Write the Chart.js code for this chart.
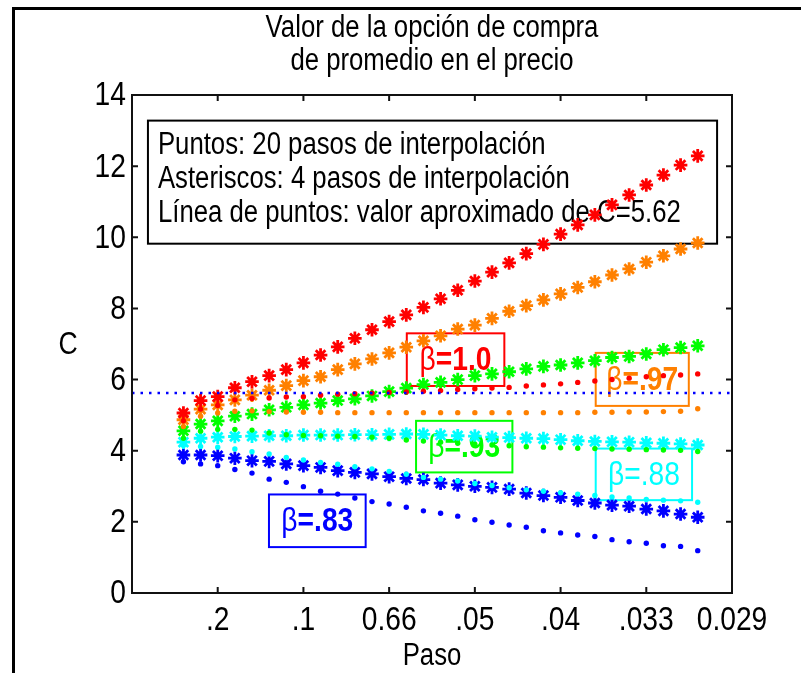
<!DOCTYPE html>
<html><head><meta charset="utf-8">
<script src="https://cdn.jsdelivr.net/npm/chart.js@4.4.1/dist/chart.umd.min.js"></script>
<style>html,body{margin:0;padding:0;background:#fff;}canvas{display:block;}</style>
</head><body>
<canvas id="c" width="801" height="673"></canvas>
<script>
// ---- data ----
const steps = [3,4,5,6,7,8,9,10,11,12,13,14,15,16,17,18,19,20,21,22,23,24,25,26,27,28,29,30,31,32,33];
const xTickValues = [5,10,15,20,25,30,35];
const xTickLabels = ['.2','.1','0.66','.05','.04','.033','0.029'];
const yTickValues = [0,2,4,6,8,10,12,14];
const approxC = 5.62;

// asterisks: 4 interpolation steps ; dots: 20 interpolation steps
const stars100 = [5.06,5.41,5.52,5.77,5.94,6.11,6.28,6.47,6.69,6.92,7.16,7.40,7.63,7.82,8.03,8.27,8.51,8.77,9.02,9.28,9.54,9.80,10.09,10.35,10.63,10.91,11.19,11.47,11.75,12.03,12.29];
const dots100  = [4.84,5.17,5.27,5.43,5.47,5.48,5.51,5.52,5.56,5.59,5.60,5.62,5.64,5.65,5.67,5.69,5.72,5.74,5.76,5.78,5.82,5.85,5.88,5.92,5.96,6.00,6.04,6.08,6.11,6.13,6.16];
const stars97  = [4.87,5.17,5.29,5.43,5.56,5.70,5.83,5.97,6.08,6.28,6.44,6.58,6.75,6.91,7.09,7.23,7.42,7.53,7.72,7.92,8.08,8.24,8.41,8.59,8.75,8.94,9.11,9.30,9.48,9.67,9.84];
const dots97   = [4.68,4.97,5.06,5.11,5.12,5.10,5.09,5.08,5.08,5.07,5.07,5.07,5.07,5.07,5.07,5.07,5.07,5.07,5.07,5.07,5.07,5.07,5.07,5.07,5.08,5.08,5.09,5.09,5.10,5.11,5.18];
const stars93  = [4.56,4.75,4.84,4.97,5.03,5.15,5.22,5.29,5.34,5.41,5.46,5.54,5.66,5.76,5.86,5.92,6.00,6.11,6.16,6.22,6.30,6.37,6.41,6.47,6.53,6.62,6.65,6.72,6.84,6.90,6.95];
const dots93   = [4.35,4.55,4.60,4.60,4.58,4.50,4.45,4.43,4.42,4.41,4.40,4.38,4.35,4.30,4.27,4.24,4.21,4.18,4.16,4.14,4.11,4.10,4.08,4.07,4.06,4.05,4.04,4.03,4.02,4.01,3.98];
const stars88  = [4.24,4.35,4.38,4.40,4.41,4.42,4.42,4.44,4.44,4.44,4.45,4.45,4.46,4.47,4.46,4.44,4.42,4.41,4.38,4.37,4.35,4.34,4.31,4.28,4.26,4.25,4.24,4.22,4.21,4.19,4.16];
const dots88   = [4.15,4.12,4.10,4.05,3.97,3.91,3.81,3.74,3.67,3.62,3.55,3.49,3.42,3.34,3.25,3.20,3.15,3.08,3.02,2.96,2.90,2.86,2.82,2.78,2.74,2.70,2.67,2.63,2.61,2.59,2.55];
const stars83  = [3.88,3.88,3.86,3.79,3.72,3.70,3.63,3.58,3.53,3.44,3.39,3.35,3.27,3.22,3.19,3.09,3.04,3.00,2.97,2.92,2.81,2.74,2.69,2.60,2.53,2.47,2.44,2.36,2.31,2.22,2.13];
const dots83   = [3.69,3.63,3.58,3.47,3.37,3.20,3.11,2.99,2.86,2.78,2.67,2.57,2.50,2.41,2.31,2.24,2.16,2.06,1.99,1.91,1.85,1.75,1.69,1.63,1.59,1.50,1.44,1.40,1.33,1.31,1.19];

const titleLines = ['Valor de la opción de compra','de promedio en el precio'];
const xTitle = 'Paso';
const yTitle = 'C';
const noteLines = ['Puntos: 20 pasos de interpolación','Asteriscos: 4 pasos de interpolación','Línea de puntos: valor aproximado de C=5.62'];
const betaNames = ['=1.0','=.97','=.93','=.88','=.83'];

// ---- styles / annotation placement ----
const COL = {b100:'#ff0000', b97:'#ff8000', b93:'#00ff00', b88:'#00ffff', b83:'#0000ff'};
const betaColors = [COL.b100, COL.b97, COL.b93, COL.b88, COL.b83];
const betaBold = [true,true,true,false,true];
const betaBoxes = [ // data coordinates
  {x0:16.03,x1:21.72,y0:5.82,y1:7.30},
  {x0:27.05,x1:32.48,y0:5.26,y1:6.75},
  {x0:16.57,x1:22.19,y0:3.39,y1:4.84},
  {x0:27.05,x1:32.67,y0:2.61,y1:4.06},
  {x0:7.99, x1:13.63,y0:1.29,y1:2.77}
];
const noteBox = {x0:0.93,x1:34.13,y0:9.82,y1:13.28};
const FAM = "'Liberation Sans',Arial,Helvetica,sans-serif";
const SX = 0.83; // horizontal condensing (narrow Helvetica look)

function pts(ys){ return steps.map((x,i)=>({x:x, y:ys[i]})); }
function starDs(ys,c){ return {data:pts(ys), pointStyle:'star', pointRadius:6.8, pointHoverRadius:6.8, pointBorderWidth:2.8, borderColor:c, backgroundColor:c, showLine:false}; }
function dotDs(ys,c){ return {data:pts(ys), pointStyle:'circle', pointRadius:2.7, pointHoverRadius:2.7, pointBorderWidth:0, borderColor:c, backgroundColor:c, showLine:false}; }

function txt(ctx, s, x, y, align, font, color){
  ctx.save();
  ctx.font = font; ctx.fillStyle = color || '#000';
  ctx.textAlign = align; ctx.textBaseline = 'middle';
  ctx.translate(x, y); ctx.scale(SX, 1);
  ctx.fillText(s, 0, 0);
  ctx.restore();
}
function txtW(ctx, s, font){ ctx.save(); ctx.font = font; const w = ctx.measureText(s).width*SX; ctx.restore(); return w; }

const matlab = {
  id:'matlab',
  beforeDatasetsDraw(chart){
    const ctx = chart.ctx, xs = chart.scales.x, ys = chart.scales.y, a = chart.chartArea;
    ctx.save();
    // outer frame
    ctx.fillStyle = '#000';
    ctx.fillRect(12,7,801-12,3);
    ctx.fillRect(12,7,3,673-7);
    const f31 = '31px ' + FAM;
    const cx = (a.left + a.right)/2;
    // title
    txt(ctx, titleLines[0], cx, 28, 'center', f31);
    txt(ctx, titleLines[1], cx, 61, 'center', f31);
    // axis titles
    txt(ctx, xTitle, cx, 656, 'center', f31);
    txt(ctx, yTitle, 68, 345, 'center', '32px ' + FAM);
    // tick labels, positioned by the chart's scales
    const f34 = '34px ' + FAM;
    xs.ticks.forEach((t,i)=>{
      const k = xTickValues.indexOf(t.value);
      if (k >= 0) txt(ctx, xTickLabels[k], xs.getPixelForValue(t.value), a.bottom + 28, 'center', f34);
    });
    ys.ticks.forEach(t=>{
      txt(ctx, String(t.value), a.left - 6, ys.getPixelForValue(t.value) + 1, 'right', f34);
    });
    // note box
    const nx0 = xs.getPixelForValue(noteBox.x0), nx1 = xs.getPixelForValue(noteBox.x1);
    const ny0 = ys.getPixelForValue(noteBox.y1), ny1 = ys.getPixelForValue(noteBox.y0);
    ctx.lineWidth = 2; ctx.strokeStyle = '#000';
    ctx.strokeRect(nx0, ny0, nx1-nx0, ny1-ny0);
    noteLines.forEach((t,i)=> txt(ctx, t, nx0+10, ny0+25+i*34, 'left', f31));
    // beta labels
    betaBoxes.forEach((b,i)=>{
      const x0 = xs.getPixelForValue(b.x0), x1 = xs.getPixelForValue(b.x1);
      const y0 = ys.getPixelForValue(b.y1), y1 = ys.getPixelForValue(b.y0);
      ctx.strokeStyle = betaColors[i];
      ctx.lineWidth = 2;
      ctx.strokeRect(x0, y0, x1-x0, y1-y0);
      const fB = '34px ' + FAM;
      const fR = (betaBold[i] ? 'bold ' : '') + '34px ' + FAM;
      const wB = txtW(ctx, 'β', fB), wR = txtW(ctx, betaNames[i], fR);
      const start = (x0+x1)/2 - (wB+wR)/2;
      const ym = (y0+y1)/2 + 1;
      txt(ctx, 'β', start, ym, 'left', fB, betaColors[i]);
      txt(ctx, betaNames[i], start + wB, ym, 'left', fR, betaColors[i]);
    });
    ctx.restore();
  },
  afterDatasetsDraw(chart){
    const ctx = chart.ctx, xs = chart.scales.x, ys = chart.scales.y, a = chart.chartArea;
    ctx.save();
    ctx.strokeStyle = '#111'; ctx.lineWidth = 2;
    ctx.strokeRect(a.left, a.top, a.right-a.left, a.bottom-a.top);
    const tl = 6;
    ctx.beginPath();
    xTickValues.forEach(v=>{
      const px = xs.getPixelForValue(v);
      ctx.moveTo(px, a.bottom); ctx.lineTo(px, a.bottom - tl);
      ctx.moveTo(px, a.top); ctx.lineTo(px, a.top + tl);
    });
    yTickValues.forEach(v=>{
      const py = ys.getPixelForValue(v);
      ctx.moveTo(a.left, py); ctx.lineTo(a.left + tl, py);
      ctx.moveTo(a.right, py); ctx.lineTo(a.right - tl, py);
    });
    ctx.stroke();
    ctx.restore();
  }
};

new Chart(document.getElementById('c'), {
  type:'scatter',
  data:{ datasets:[
    {type:'line', data:[{x:0,y:approxC},{x:35,y:approxC}], borderColor:COL.b83, borderWidth:2.5, borderDash:[2.5,6], pointRadius:0, showLine:true, fill:false},
    dotDs(dots100, COL.b100), starDs(stars100, COL.b100),
    dotDs(dots97, COL.b97),   starDs(stars97, COL.b97),
    dotDs(dots93, COL.b93),   starDs(stars93, COL.b93),
    dotDs(dots88, COL.b88),   starDs(stars88, COL.b88),
    dotDs(dots83, COL.b83),   starDs(stars83, COL.b83)
  ]},
  options:{
    responsive:false, animation:false, devicePixelRatio:1,
    layout:{padding:{left:0,right:69,top:95,bottom:0}},
    plugins:{legend:{display:false}, title:{display:false}, tooltip:{enabled:false}},
    scales:{
      x:{type:'linear', min:0, max:35,
         afterBuildTicks:s=>{ s.ticks = xTickValues.map(v=>({value:v})); },
         afterFit:s=>{ s.height = 80; },
         grid:{display:false, drawTicks:false}, border:{display:false},
         ticks:{display:false}},
      y:{type:'linear', min:0, max:14,
         afterBuildTicks:s=>{ s.ticks = yTickValues.map(v=>({value:v})); },
         afterFit:s=>{ s.width = 132; },
         grid:{display:false, drawTicks:false}, border:{display:false},
         ticks:{display:false}}
    }
  },
  plugins:[matlab]
});
</script>
</body></html>
